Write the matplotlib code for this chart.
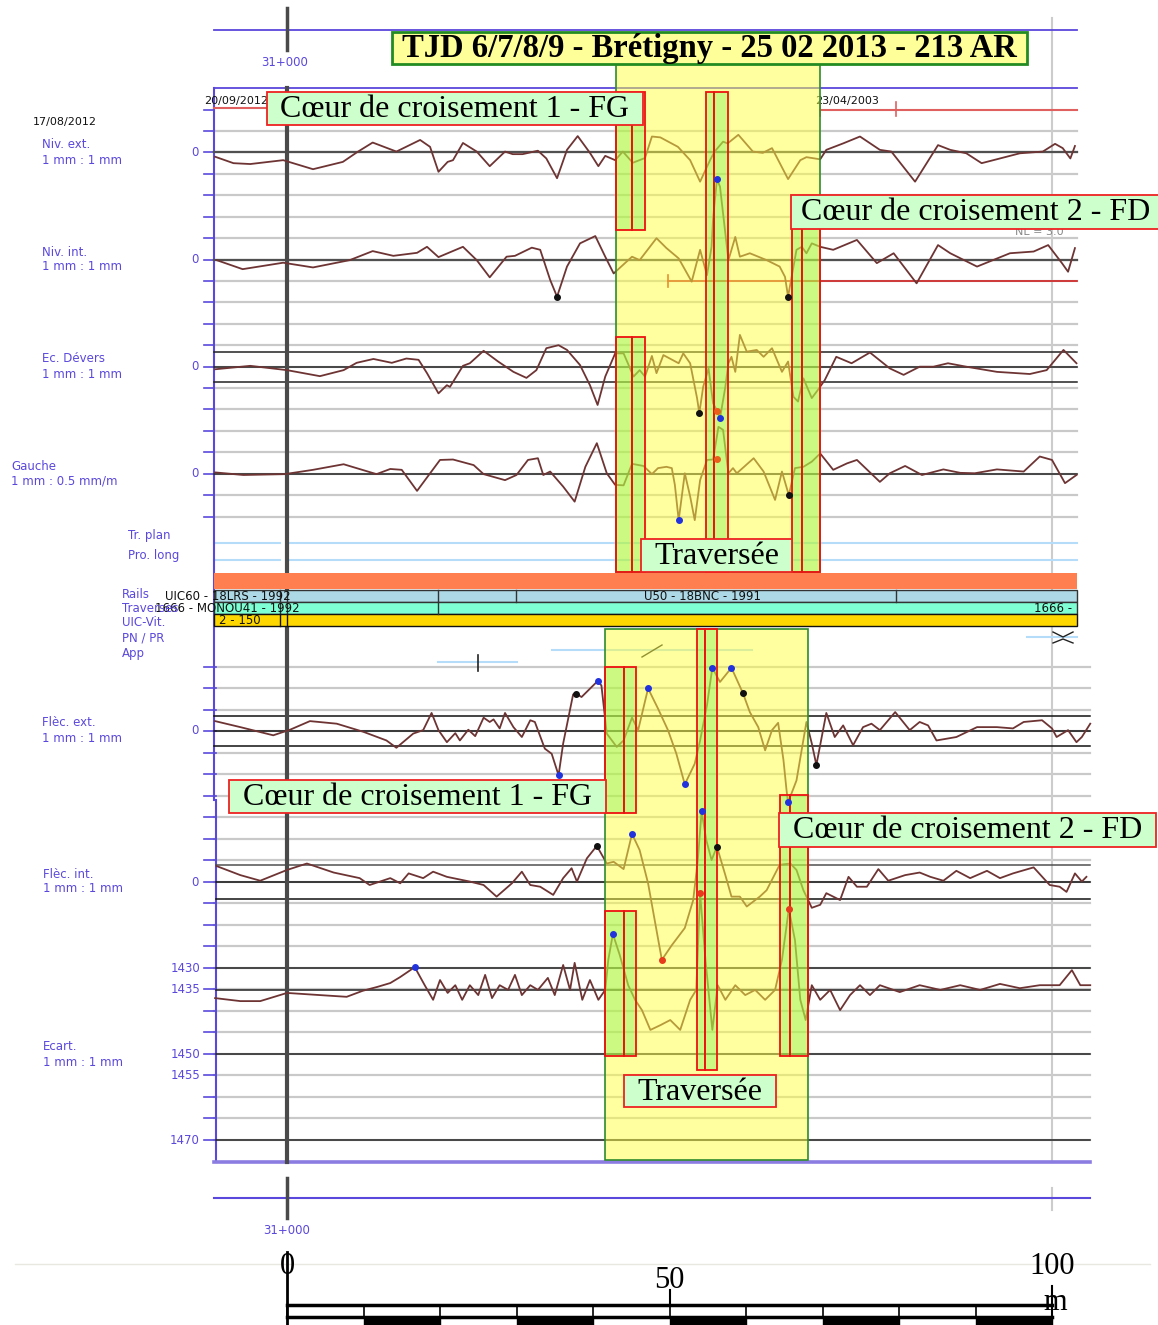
import numpy as np
import matplotlib.pyplot as plt
from matplotlib.patches import Rectangle

# distances in m from post 31+000, values in mm
niv_ext_d = [-9.4, -7.0, -4.8, -0.5, 3.4, 7.3, 9.2, 11.2, 14.3, 17.4, 18.7, 19.8, 21.0, 21.7, 23.0, 24.8,
             26.5, 28.5, 29.5, 30.8, 32.8, 33.9, 35.3, 36.6, 38.0, 39.6, 40.7, 41.6, 42.9, 43.9, 45.2, 46.8,
             47.7, 48.8, 51.1, 52.7, 54.0, 55.3, 55.9, 57.0, 57.6, 59.0, 60.9, 62.2, 63.4, 65.5, 67.1, 67.9,
             69.7, 70.5, 72.7, 74.9, 77.5, 79.0, 82.1, 85.1, 86.7, 88.8, 90.8, 93.2, 95.8, 98.8, 100.4,
             101.4, 102.4, 103.0]
niv_ext_v = [-1.1, -2.6, -2.8, -1.9, -4.0, -2.3, 0.0, 2.2, 0.1, 2.8, 1.2, -4.6, -2.3, -1.9, 2.1, 0.1,
             -3.3, 0.1, -0.5, -0.5, 0.3, -1.5, -6.1, 0.5, 3.7, -0.2, -3.3, -0.9, -1.9, 0.1, -2.5, -1.4,
             3.6, 3.4, 1.2, -1.9, -6.9, -1.9, 0.1, 2.4, 2.0, 4.0, 0.1, -0.2, 0.9, -6.3, -1.9, -1.2,
             -1.7, 0.5, 2.0, 3.6, 0.5, 0.1, -6.9, 1.6, 0.5, -0.3, -2.6, -1.5, -0.3, 0.1, 1.9,
             0.9, -1.5, 1.4]

niv_int_d = [-9.2, -5.8, -0.5, 3.4, 8.2, 11.2, 13.9, 17.0, 18.3, 19.8, 23.0, 24.8, 26.5, 28.7, 29.8, 32.0,
             33.1, 34.4, 35.3, 36.6, 38.3, 40.3, 41.6, 42.7, 45.1, 46.1, 48.3, 49.6, 51.2, 52.9, 54.0, 54.9,
             55.5, 55.7, 56.2, 56.6, 57.7, 58.6, 59.2, 60.5, 62.7, 64.4, 65.1, 65.5, 66.6, 67.3, 67.9, 68.6,
             69.7, 71.4, 74.5, 77.1, 79.3, 82.3, 85.1, 86.7, 90.2, 94.5, 97.6, 99.5, 101.3, 102.1, 103.0]
niv_int_v = [-0.1, -2.2, -0.7, -1.8, -0.1, 2.0, 0.9, 1.6, 3.0, 0.6, 3.0, -0.1, -4.1, 0.7, 0.9, 2.8,
             2.3, -4.7, -8.6, -1.6, 3.8, 5.5, 0.7, -3.2, 0.7, -0.1, 5.0, 2.7, 0.3, -5.1, 2.3, -3.6,
             3.0, 9.6, 18.7, 17.0, -0.1, 5.3, 0.7, 1.5, -0.1, -1.6, -4.0, -8.6, 2.3, 3.0, 1.5, 3.8,
             3.0, 2.3, 4.6, -0.8, 1.5, -5.5, 3.4, 1.5, -1.6, 1.5, 1.9, 3.4, -0.8, -2.8, 2.7]

devers_d = [-9.4, -4.8, 0.0, 4.3, 7.4, 9.1, 11.3, 13.7, 15.6, 17.2, 18.3, 19.8, 20.9, 21.3, 23.0, 23.9,
            25.7, 27.6, 29.6, 31.3, 32.6, 33.9, 35.5, 36.6, 38.3, 39.6, 40.6, 41.6, 42.9, 44.0, 45.3, 46.1,
            46.8, 47.7, 48.3, 49.2, 51.2, 51.8, 52.7, 53.6, 53.9, 54.4, 55.1, 55.7, 56.2, 56.6, 57.3, 57.7,
            58.1, 58.6, 59.2, 60.1, 61.4, 62.3, 63.4, 64.7, 65.5, 66.2, 66.8, 67.5, 68.6, 69.4, 70.3, 71.8,
            73.8, 76.2, 78.8, 80.6, 82.7, 84.5, 86.4, 88.8, 92.8, 97.1, 99.3, 101.5, 103.2]
devers_v = [-0.6, 0.2, -0.8, -2.2, -0.8, 0.9, 1.8, 0.9, 1.9, 1.6, -1.5, -6.2, -4.3, -4.7, 0.2, 0.8,
            3.7, 1.2, -1.2, -2.6, -0.8, 4.3, 5.0, 3.9, 0.4, -4.3, -8.9, -2.3, 3.1, 3.1, -2.3, -0.8,
            -2.3, 2.5, -1.5, 2.7, 0.8, 3.1, 0.8, -7.3, -10.8, -4.7, -0.4, -8.5, -10.2, -12.0, -4.7, 0.8,
            2.3, -1.2, 7.4, 3.5, 3.9, 2.3, 4.3, -1.2, 1.2, -7.0, -8.1, -2.7, -7.3, -5.4, -3.1, 2.3,
            0.8, 3.3, -0.4, -1.9, 0.0, 0.0, 0.8, 0.0, -1.2, -1.7, -0.8, 3.9, 0.8]

gauche_d = [-9.4, -5.7, -0.3, 3.4, 7.4, 11.7, 13.5, 15.0, 17.0, 20.0, 21.7, 24.4, 25.7, 28.5, 30.0, 31.5,
            32.8, 33.5, 34.4, 36.1, 37.6, 39.0, 40.5, 41.8, 42.9, 44.0, 45.1, 46.6, 47.7, 48.5, 49.6, 50.3,
            50.7, 51.2, 52.0, 52.7, 53.3, 54.0, 54.9, 55.7, 56.4, 57.0, 57.7, 58.3, 58.8, 61.0, 62.3, 63.8,
            64.7, 65.6, 66.4, 67.5, 68.6, 69.7, 71.4, 73.2, 74.5, 77.5, 78.8, 80.8, 83.0, 85.8, 88.0, 89.9,
            92.8, 96.3, 98.4, 100.0, 101.7, 103.2]
gauche_v = [0.3, -0.3, -0.1, 0.9, 2.2, -0.1, 1.1, 0.9, -4.0, 3.2, 3.3, 2.0, -0.1, -1.5, -0.3, 3.2,
            3.6, -0.3, 0.5, -3.0, -6.5, 1.6, 7.1, 0.1, -2.6, -2.7, 2.3, 1.8, -0.1, 1.3, 1.6, 1.3,
            -2.6, -10.8, 0.1, -5.3, -10.8, -1.5, 3.2, 3.3, 10.9, 10.2, 0.1, 1.3, 0.1, 3.6, 0.5, -6.1,
            0.5, -5.0, 1.3, 1.6, 2.8, 4.7, 0.9, 2.4, 3.2, -1.9, 0.1, 1.8, -0.3, 1.0, 0.2, 0.1,
            1.0, 0.5, 4.0, 3.2, -2.2, -0.3]

flec_ext_d = [-9.4, -6.1, -1.8, 0.4, 3.0, 6.5, 10.0, 13.0, 14.3, 16.5, 17.8, 18.9, 19.8, 20.9, 22.0, 22.6,
              23.7, 24.6, 25.7, 26.5, 27.0, 27.8, 28.5, 29.6, 30.7, 31.8, 32.4, 33.7, 34.6, 35.5, 36.1, 37.4,
              37.8, 38.5, 40.6, 41.1, 41.8, 43.1, 44.0, 45.1, 45.9, 47.2, 48.5, 49.8, 50.9, 52.0, 53.3, 54.0,
              54.9, 55.6, 56.6, 58.1, 59.6, 60.5, 61.6, 62.5, 63.4, 64.2, 64.9, 65.3, 65.5, 66.6, 67.9, 68.6,
              69.2, 70.5, 71.6, 72.7, 74.0, 75.3, 76.4, 77.5, 79.5, 81.4, 82.7, 83.8, 84.9, 87.5, 90.2, 92.8,
              94.9, 96.3, 98.7, 100.0, 100.6, 102.1, 103.2, 103.9, 105.0]
flec_ext_v = [2.3, 0.9, -1.0, 0.3, 2.3, 1.7, -0.2, -2.2, -3.9, -0.6, 0.2, 4.2, 0.2, -2.6, -0.5, -2.2,
              0.3, -1.2, 3.1, 2.1, 2.7, 0.6, 4.2, 0.9, -1.4, 2.5, 2.1, -4.1, -5.3, -10.3, -2.9, 8.5,
              8.7, 7.9, 11.6, 10.6, -0.6, -3.7, -2.2, 3.1, 0.2, 9.9, 5.2, 0.2, -5.3, -12.4, -7.6, -2.2,
              6.0, 14.7, 11.4, 14.7, 8.8, 4.4, 0.9, -4.5, 0.2, 1.9, -6.8, -13.8, -16.6, -11.5, 2.1, -2.9,
              -7.9, 4.2, -1.4, 1.3, -3.3, 0.9, 1.7, 0.2, 4.4, 0.2, 2.1, 1.3, -2.2, -1.4, 0.9, 0.9,
              0.6, 2.1, 2.5, 0.6, -1.4, 0.2, -2.6, -1.4, 1.7]

flec_int_d = [-9.2, -6.1, -3.5, 0.0, 2.6, 6.1, 9.5, 10.8, 13.5, 14.8, 15.9, 17.8, 19.1, 20.9, 23.9, 25.7,
              27.4, 29.4, 30.7, 31.8, 33.1, 34.8, 36.1, 37.2, 37.9, 39.2, 40.5, 41.8, 42.7, 44.0, 45.1, 46.1,
              47.2, 48.3, 49.0, 50.3, 52.0, 53.1, 53.7, 54.2, 54.8, 55.5, 56.2, 57.3, 58.1, 59.2, 60.1, 61.8,
              62.7, 64.4, 65.8, 66.6, 67.5, 68.6, 69.7, 70.5, 71.4, 72.3, 73.4, 74.5, 75.8, 77.3, 78.6, 80.8,
              82.7, 84.1, 85.8, 87.5, 89.3, 91.5, 93.2, 94.9, 97.6, 99.7, 101.0, 101.9, 103.0, 103.9, 104.5]
flec_int_v = [3.7, 1.6, 0.3, 2.8, 4.3, 2.2, 0.9, -0.7, 0.9, -0.3, 2.0, 0.9, 2.4, 1.2, 0.1, -0.7,
              -3.4, -0.3, 2.4, -0.7, -1.1, -3.0, 0.9, 3.2, 0.1, 5.5, 8.4, 4.3, 4.7, 3.0, 11.2, 7.4,
              -0.3, -11.2, -18.1, -14.7, -10.7, -4.2, 5.1, 16.5, 9.8, 5.1, 8.2, 1.6, -3.4, -3.4, -5.7, -3.4,
              -1.9, 4.0, 4.3, 2.8, -1.9, -6.0, -5.3, -2.6, -3.4, -4.2, 1.2, -1.1, -1.1, 3.0, 0.3, 1.6,
              2.2, 1.2, 0.3, 2.6, 0.9, 2.6, 0.9, 2.0, 3.4, -0.7, -1.1, -2.3, 2.0, 0.1, 1.2]

ecart_d = [-9.4, -6.1, -3.5, 0.0, 4.3, 7.8, 9.9, 11.8, 13.5, 14.8, 16.7, 18.0, 19.1, 20.0, 21.0, 22.0,
           22.9, 23.9, 25.0, 25.9, 26.8, 27.8, 28.9, 29.8, 30.7, 31.8, 32.8, 34.1, 35.0, 36.1, 37.0, 37.6,
           38.6, 39.6, 40.7, 41.6, 42.0, 42.6, 43.5, 44.6, 45.5, 46.4, 47.5, 48.8, 50.1, 51.4, 52.7, 53.5,
           54.0, 54.7, 55.6, 56.3, 57.3, 58.6, 59.9, 61.2, 62.5, 63.8, 64.7, 65.6, 66.4, 67.1, 67.8, 68.6,
           69.7, 71.0, 72.3, 73.6, 74.9, 76.2, 77.5, 80.1, 82.7, 85.4, 88.0, 90.6, 93.2, 95.8, 98.4, 101.0,
           102.6, 103.7, 105.0]
ecart_v = [1437.0, 1437.7, 1437.7, 1435.8, 1436.3, 1436.7, 1435.3, 1434.4, 1433.5, 1432.1, 1429.8, 1434.0,
           1437.4, 1432.8, 1435.8, 1434.0, 1437.4, 1434.0, 1436.3, 1431.6, 1437.0, 1434.0, 1435.1, 1431.6,
           1436.3, 1434.0, 1435.1, 1432.3, 1436.3, 1429.3, 1435.1, 1428.8, 1437.4, 1432.8, 1437.4, 1435.1,
           1428.1, 1422.1, 1427.0, 1434.0, 1437.4, 1439.8, 1444.4, 1443.3, 1442.1, 1444.4, 1437.4, 1435.1,
           1412.6, 1428.1, 1444.4, 1434.0, 1437.4, 1434.0, 1436.3, 1435.1, 1437.4, 1435.1, 1428.1, 1416.3,
           1423.5, 1437.4, 1442.1, 1434.0, 1437.4, 1435.1, 1439.8, 1436.3, 1434.0, 1436.3, 1434.0, 1435.6,
           1434.0, 1435.1, 1434.0, 1435.1, 1433.7, 1434.7, 1434.0, 1434.0, 1430.5, 1434.0, 1434.0]

# defect markers: (channel, distance m, value, colour)
defects = [("niv_int", 35.3, -8.6, "k"), ("niv_int", 56.2, 18.7, "b"), ("niv_int", 65.5, -8.6, "k"),
           ("devers", 53.9, -10.8, "k"), ("devers", 56.2, -10.2, "o"), ("devers", 56.6, -12.0, "b"),
           ("gauche", 51.2, -10.8, "b"), ("gauche", 56.2, 3.4, "o"), ("gauche", 65.6, -5.0, "k"),
           ("flec_ext", 35.5, -10.3, "b"), ("flec_ext", 37.8, 8.7, "k"), ("flec_ext", 40.6, 11.6, "b"),
           ("flec_ext", 47.2, 9.9, "b"), ("flec_ext", 52.0, -12.4, "b"), ("flec_ext", 55.6, 14.7, "b"),
           ("flec_ext", 58.1, 14.7, "b"), ("flec_ext", 59.6, 8.8, "k"), ("flec_ext", 65.5, -16.6, "b"),
           ("flec_ext", 69.2, -7.9, "k"),
           ("flec_int", 40.5, 8.4, "k"), ("flec_int", 45.1, 11.2, "b"), ("flec_int", 49.0, -18.1, "r"),
           ("flec_int", 54.2, 16.5, "b"), ("flec_int", 56.2, 8.2, "k"),
           ("ecart", 16.7, 1429.8, "b"), ("ecart", 42.6, 1422.1, "b"), ("ecart", 54.0, 1412.6, "r"),
           ("ecart", 65.6, 1416.3, "r")]
dot_colors = {"k": "#111111", "b": "#2233dd", "o": "#e8601c", "r": "#e83a1c"}

# left hand channel captions
captions = [("Niv. ext.", 42, 145), ("1 mm : 1 mm", 42, 160), ("Niv. int.", 42, 252), ("1 mm : 1 mm", 42, 267),
            ("Ec. Dévers", 42, 359), ("1 mm : 1 mm", 42, 374), ("Gauche", 11, 466), ("1 mm : 0.5 mm/m", 11, 481),
            ("Tr. plan", 128, 535), ("Pro. long", 128, 556), ("Rails", 122, 594), ("Traverses", 122, 608),
            ("UIC-Vit.", 122, 623), ("PN / PR", 122, 638), ("App", 122, 653),
            ("Flèc. ext.", 42, 723), ("1 mm : 1 mm", 42, 738), ("Flèc. int.", 43, 874), ("1 mm : 1 mm", 43, 889),
            ("Ecart.", 43, 1047), ("1 mm : 1 mm", 43, 1062)]
ecart_ticks = [1430, 1435, 1450, 1455, 1470]
ecart_lines = [1430, 1435, 1450, 1470]

title = "TJD 6/7/8/9 - Brétigny - 25 02 2013 - 213 AR"

# zones in m
zone_top = (43.0, 69.7)
zone_bot = (41.6, 68.1)
# (start, split, end) of the crossing boxes
fg_top, trav_top, fd_top = (43.0, 45.1, 46.8), (54.8, 55.8, 57.6), (66.0, 67.3, 69.7)
fg_bot, trav_bot, fd_bot = (41.6, 44.1, 45.6), (53.6, 54.6, 56.2), (64.4, 65.8, 68.1)

# ---- layout (pixel rows, 4.3 px per mm, 7.65 px per m) ----
X0, PXM, MM = 287.0, 7.65, 4.3
BLUE = "#5a48dc"
TRACE = "#6e3434"
GRID = "#c9c9c9"
SERIF = "Liberation Serif"
SANS = "DejaVu Sans"

base = {"niv_ext": 152.0, "niv_int": 259.7, "devers": 366.7, "gauche": 473.7,
        "flec_ext": 731.0, "flec_int": 882.0}
Y1430 = 968.0


def mx(px):
    return (px - X0) / PXM


def ypos(ch, v):
    v = np.asarray(v, dtype=float)
    if ch == "ecart":
        return Y1430 + MM * (v - 1430)
    return base[ch] - MM * v


fig = plt.figure(figsize=(11.58, 13.25), dpi=100)
ax = fig.add_axes([0, 0, 1, 1])
ax.set_xlim(mx(0), mx(1158))
ax.set_ylim(1325, 0)
ax.axis("off")


def hl(y, x1, x2, **kw):
    ax.plot([mx(x1), mx(x2)], [y, y], **kw)


def vl(x, y1, y2, **kw):
    ax.plot([mx(x), mx(x)], [y1, y2], **kw)


def rect(x1, x2, y1, y2, **kw):
    ax.add_patch(Rectangle((x1, y1), x2 - x1, y2 - y1, **kw))


# grid
for k in range(19):
    y = 131.0 + 21.42 * k
    hl(y, 214, 1077, color=GRID, lw=1.6, zorder=1)
    hl(y, 204, 214, color=BLUE, lw=1.2, zorder=2)
hl(109.6, 204, 214, color=BLUE, lw=1.2, zorder=2)
for k in range(23):
    y = 666.7 + 21.5 * k
    hl(y, 214, 1090, color=GRID, lw=1.6, zorder=1)
    hl(y, 204, 216, color=BLUE, lw=1.2, zorder=2)

# frame
hl(30, 214, 1077, color=BLUE, lw=1.3, zorder=2)
hl(88, 214, 1077, color=BLUE, lw=1.3, zorder=2)
vl(214, 88, 800, color=BLUE, lw=1.5, zorder=2)
vl(216, 800, 1162, color=BLUE, lw=1.5, zorder=2)
hl(1162, 214, 1090, color="#8a7ce0", lw=2.6, zorder=2)
hl(1198, 214, 1090, color=BLUE, lw=1.5, zorder=2)

# zero / tolerance lines
for ch in ["niv_ext", "niv_int"]:
    hl(base[ch], 214, 1077, color="#505050", lw=1.6, zorder=2)
for off in [-3.5, 0, 3.5]:
    hl(ypos("devers", off), 214, 1077, color="#222222", lw=1.1, zorder=2)
hl(base["gauche"], 214, 1077, color="#222222", lw=1.1, zorder=2)
for off in [-3.5, 0, 3.5]:
    hl(ypos("flec_ext", off), 214, 1090, color="#111111", lw=1.1, zorder=2)
for off, c in [(4.0, "#505050"), (0, "#111111"), (-4.0, "#111111")]:
    hl(ypos("flec_int", off), 216, 1090, color=c, lw=1.1, zorder=2)
for v in ecart_lines:
    hl(float(ypos("ecart", v)), 216, 1090, color="#222222", lw=1.1, zorder=2)

# km post and 100 m lines
vl(287, 88, 1162, color="#4a4a4a", lw=3, zorder=2)
vl(287, 8, 50, color="#4a4a4a", lw=2.5, zorder=2)
vl(287, 1178, 1218, color="#4a4a4a", lw=2.5, zorder=2)
vl(1052, 18, 1162, color="#cccccc", lw=1.5, zorder=1)
vl(1052, 1188, 1210, color="#cccccc", lw=1.5, zorder=1)
ax.text(mx(285), 62, "31+000", color=BLUE, fontsize=8.5, family=SANS, ha="center", va="center")
ax.text(mx(287), 1230, "31+000", color=BLUE, fontsize=8.5, family=SANS, ha="center", va="center")

# plan / profile lines
for y in [543, 560]:
    hl(y, 214, 280, color="#b5dcf8", lw=1.5, zorder=1)
    hl(y, 288, 1077, color="#b5dcf8", lw=1.5, zorder=1)

# info bands
rect(mx(214), mx(1077), 573, 589, facecolor="#ff7f50", edgecolor="none", zorder=2)
rect(mx(214), mx(1077), 590, 602, facecolor="#add8e6", edgecolor="#333333", lw=1, zorder=2)
rect(mx(214), mx(1077), 602, 614, facecolor="#7fffd4", edgecolor="#333333", lw=1, zorder=2)
rect(mx(214), mx(1077), 614, 626, facecolor="#ffd700", edgecolor="#111111", lw=1, zorder=2)
for x in [280, 287, 438, 516, 896]:
    vl(x, 590, 602, color="#333333", lw=1, zorder=2)
for x in [280, 287, 438]:
    vl(x, 602, 614, color="#333333", lw=1, zorder=2)
for x in [280, 287]:
    vl(x, 614, 626, color="#111111", lw=1, zorder=2)
band_kw = dict(fontsize=8.5, family=SANS, va="center", zorder=3, color="#111111")
ax.text(mx(165), 596, "UIC60 - 18LRS - 1992", **band_kw)
ax.text(mx(702), 596, "U50 - 18BNC - 1991", ha="center", **band_kw)
ax.text(mx(155), 608, "1666 - MONOU41 - 1992", **band_kw)
ax.text(mx(1072), 608, "1666 -", ha="right", **band_kw)
ax.text(mx(219), 620, "2 - 150", **band_kw)

# PN / PR / App marks
hl(662, 438, 517, color="#b5dcf8", lw=1.5, zorder=2)
vl(478, 655, 671, color="#222222", lw=1.2, zorder=3)
hl(650, 552, 752, color="#b5dcf8", lw=1.5, zorder=2)
ax.plot([mx(642), mx(662)], [657, 645], color="#222222", lw=1, zorder=3)
hl(637, 1027, 1077, color="#b5dcf8", lw=1.5, zorder=2)
ax.plot([mx(1053), mx(1063), mx(1073)], [632, 637, 632], color="#222222", lw=1, zorder=3)
ax.plot([mx(1053), mx(1063), mx(1073)], [643, 639, 643], color="#222222", lw=1, zorder=3)

# dates and red validity lines
ax.text(mx(33), 122, "17/08/2012", fontsize=8, family=SANS, va="center", color="#111111")
ax.text(mx(204), 101, "20/09/2012", fontsize=8, family=SANS, va="center", color="#111111", zorder=2)
ax.text(mx(815), 101, "23/04/2003", fontsize=8, family=SANS, va="center", color="#111111", zorder=2)
hl(108, 214, 268, color="#e06060", lw=1.5, zorder=2)
hl(110, 820, 1077, color="#e06060", lw=1.5, zorder=2)
vl(820, 102, 116, color="#e06060", lw=1.2, zorder=2)
vl(896, 102, 116, color="#e06060", lw=1.2, zorder=2)
hl(281, 668, 1077, color="#d02020", lw=1.2, zorder=2)
vl(668, 275, 287, color="#d02020", lw=1.2, zorder=2)
ax.text(mx(1015), 232, "NL = 3.0", fontsize=8, family=SANS, va="center", color="#888888", zorder=2)

# traces
series = [("niv_ext", niv_ext_d, niv_ext_v), ("niv_int", niv_int_d, niv_int_v),
          ("devers", devers_d, devers_v), ("gauche", gauche_d, gauche_v),
          ("flec_ext", flec_ext_d, flec_ext_v), ("flec_int", flec_int_d, flec_int_v),
          ("ecart", ecart_d, ecart_v)]
for ch, d, v in series:
    ax.plot(d, ypos(ch, v), color=TRACE, lw=1.3, zorder=3)

# highlighted zones (semi transparent over traces)
rect(zone_top[0], zone_top[1], 62, 572, facecolor="#ffff40", alpha=0.5, edgecolor="none", zorder=4)
rect(zone_top[0], zone_top[1], 62, 572, fill=False, edgecolor="#2e8b2e", lw=1.2, zorder=4)
rect(zone_bot[0], zone_bot[1], 629, 1160, facecolor="#ffff40", alpha=0.5, edgecolor="none", zorder=4)
rect(zone_bot[0], zone_bot[1], 629, 1160, fill=False, edgecolor="#2e8b2e", lw=1.2, zorder=4)


def crossing(box, y1, y2):
    a, b, c = box
    for x1, x2 in [(a, b), (b, c)]:
        rect(x1, x2, y1, y2, facecolor="#66ee44", alpha=0.33, edgecolor="none", zorder=5)
        rect(x1, x2, y1, y2, fill=False, edgecolor="#ee1111", lw=1.3, zorder=5)


crossing(fg_top, 92, 230)
crossing(fg_top, 337, 572)
crossing(trav_top, 92, 572)
crossing(fd_top, 227, 572)
crossing(fg_bot, 667, 813)
crossing(fg_bot, 911, 1056)
crossing(trav_bot, 629, 1070)
crossing(fd_bot, 795, 1056)

# defect dots
for ch, d, v, c in defects:
    ax.plot(d, ypos(ch, v), "o", ms=4, color=dot_colors[c], zorder=6)


def label_box(x1, x2, y1, y2, text, face="#ccffcc", edge="#ee2222", bold=False, lw=1.3, size=23):
    rect(mx(x1), mx(x2), y1, y2, facecolor=face, edgecolor=edge, lw=lw, zorder=7)
    ax.text(mx((x1 + x2) / 2), (y1 + y2) / 2 + 1, text, ha="center", va="center", fontsize=size,
            family=SERIF, fontweight="bold" if bold else "normal", color="black", zorder=8)


label_box(392, 1027, 32, 64, title, face="#ffff99", edge="#228b22", bold=True, lw=2, size=23.5)
label_box(267, 643, 92, 125, "Cœur de croisement 1 - FG")
label_box(791, 1160, 195, 229, "Cœur de croisement 2 - FD")
label_box(641, 792, 539, 572, "Traversée")
label_box(229, 606, 780, 813, "Cœur de croisement 1 - FG")
label_box(779, 1156, 813, 847, "Cœur de croisement 2 - FD")
label_box(624, 776, 1075, 1107, "Traversée")

# captions and scale numbers
for text, x, y in captions:
    ax.text(mx(x), y, text, color=BLUE, fontsize=8.5, family=SANS, va="center")
for ch in ["niv_ext", "niv_int", "devers", "gauche", "flec_ext", "flec_int"]:
    ax.text(mx(199), base[ch], "0", color=BLUE, fontsize=8.5, family=SANS, ha="right", va="center")
for v in ecart_ticks:
    ax.text(mx(200), float(ypos("ecart", v)), str(v), color=BLUE, fontsize=8.5, family=SANS,
            ha="right", va="center")

# scale bar
hl(1264, 15, 1150, color="#e8e8e0", lw=1, zorder=1)
ax.plot([0, 100], [1305, 1305], color="black", lw=2.5)
ax.plot([0, 100], [1317, 1317], color="black", lw=2.5)
for d in range(0, 101, 10):
    ax.plot([d, d], [1305, 1317], color="black", lw=1.2)
for d in range(10, 100, 20):
    ax.add_patch(Rectangle((d, 1317), 10, 8, facecolor="black", edgecolor="black"))
ax.plot([0, 0], [1252, 1325], color="black", lw=2)
ax.plot([50, 50], [1290, 1305], color="black", lw=1.5)
ax.plot([100, 100], [1286, 1320], color="black", lw=1.5)
ax.text(0, 1266, "0", fontsize=22, family=SERIF, ha="center", va="center")
ax.text(50, 1280, "50", fontsize=22, family=SERIF, ha="center", va="center")
ax.text(100, 1266, "100", fontsize=22, family=SERIF, ha="center", va="center")
ax.text(100.4, 1302, "m", fontsize=22, family=SERIF, ha="center", va="center")

fig.savefig("out.png", dpi=100)
